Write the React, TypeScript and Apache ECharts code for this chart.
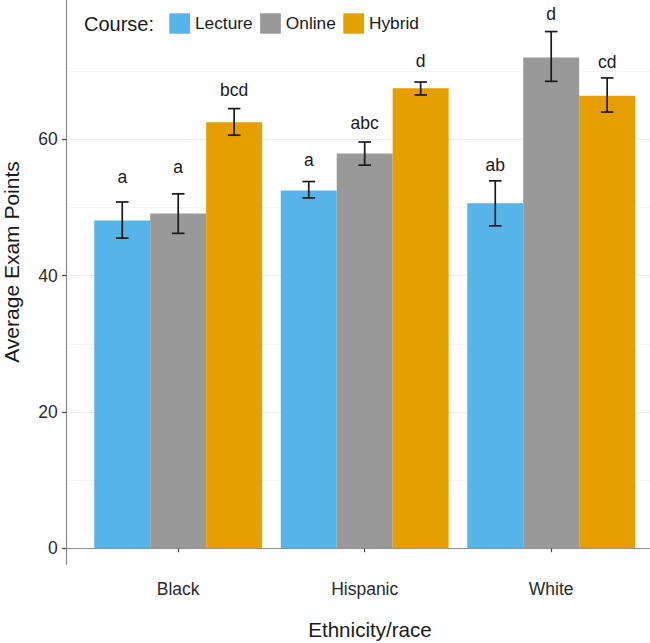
import React, { useEffect, useRef } from "react";
import * as echarts from "echarts";

const ethnicities = ["Black", "Hispanic", "White"];
const courses = ["Lecture", "Online", "Hybrid"];
const courseColors = ["#56B4E9", "#999999", "#E69F00"];

const lectureMean = [48.1, 52.5, 50.6];
const lectureLower = [45.5, 51.4, 47.3];
const lectureUpper = [50.8, 53.8, 53.9];
const lectureLetters = ["a", "a", "ab"];
const lectureLabelY = [53.6, 56.1, 55.4];

const onlineMean = [49.1, 57.9, 72.0];
const onlineLower = [46.2, 56.2, 68.5];
const onlineUpper = [52.0, 59.6, 75.8];
const onlineLetters = ["a", "abc", "d"];
const onlineLabelY = [55.0, 61.5, 77.5];

const hybridMean = [62.5, 67.5, 66.4];
const hybridLower = [60.6, 66.5, 64.0];
const hybridUpper = [64.5, 68.4, 69.0];
const hybridLetters = ["bcd", "d", "cd"];
const hybridLabelY = [66.3, 70.6, 70.5];

const yTickValues = [0, 20, 40, 60];

const FONT = "'Liberation Sans', Arial, Helvetica, sans-serif";

export default function App() {
  const ref = useRef<HTMLDivElement>(null);

  useEffect(() => {
    if (!ref.current) return;
    const chart = echarts.init(ref.current, null, { renderer: "svg" });

    const means = [lectureMean, onlineMean, hybridMean];
    const lowers = [lectureLower, onlineLower, hybridLower];
    const uppers = [lectureUpper, onlineUpper, hybridUpper];
    const letters = [lectureLetters, onlineLetters, hybridLetters];
    const labelYs = [lectureLabelY, onlineLabelY, hybridLabelY];

    const errRows: number[][] = [];
    const errLetters: string[] = [];
    for (let k = 0; k < courses.length; k++) {
      for (let c = 0; c < ethnicities.length; c++) {
        errRows.push([c, k, lowers[k][c], uppers[k][c], labelYs[k][c]]);
        errLetters.push(letters[k][c]);
      }
    }

    const yMin = -2.347;
    const yMax = 80.43;

    const option: any = {
      animation: false,
      backgroundColor: "#ffffff",
      textStyle: { fontFamily: FONT },
      grid: [
        { left: 66.3, top: 71.11, width: 620, height: 477.19 },
        { left: 66.3, top: 0, width: 620, height: 564.3 },
        { left: 84.95, top: 0, width: 559.5, height: 564.3 },
      ],
      xAxis: [
        { gridIndex: 0, type: "value", min: 0, max: 1, show: false },
        {
          gridIndex: 1,
          type: "value",
          min: 0,
          max: 1,
          axisLine: { show: true, lineStyle: { color: "#8c8c8c", width: 1.2 } },
          axisTick: { show: false },
          axisLabel: { show: false },
          splitLine: { show: false },
        },
        {
          gridIndex: 2,
          type: "category",
          data: ethnicities,
          axisLine: { show: false },
          axisTick: {
            show: true,
            alignWithLabel: true,
            length: 4,
            lineStyle: { color: "#444", width: 1.2 },
          },
          axisLabel: {
            margin: 16,
            fontSize: 17.5,
            color: "#2b2b2b",
            fontFamily: FONT,
          },
          splitLine: { show: false },
        },
      ],
      yAxis: [
        {
          gridIndex: 0,
          type: "value",
          min: 0,
          max: 70,
          interval: 10,
          axisLine: { show: false },
          axisTick: { show: false },
          axisLabel: { show: false },
          splitLine: {
            show: true,
            lineStyle: { color: ["#ebebeb", "#f5f5f5"], width: 1 },
          },
        },
        {
          gridIndex: 1,
          type: "value",
          min: yMin,
          max: yMax,
          axisLine: { show: true, lineStyle: { color: "#8c8c8c", width: 1.2 } },
          axisTick: {
            show: true,
            length: 4.3,
            customValues: yTickValues,
            lineStyle: { color: "#444", width: 1.2 },
          },
          axisLabel: {
            customValues: yTickValues,
            margin: 8.6,
            fontSize: 17.5,
            color: "#2b2b2b",
            fontFamily: FONT,
          },
          splitLine: { show: false },
        },
        {
          gridIndex: 2,
          type: "value",
          min: yMin,
          max: yMax,
          show: false,
        },
      ],
      legend: {
        data: courses,
        left: 169.3,
        top: 13.3,
        padding: 0,
        itemWidth: 20.7,
        itemHeight: 20.4,
        itemGap: 7.5,
        icon: "rect",
        textStyle: { fontSize: 17.3, color: "#1a1a1a", fontFamily: FONT },
      },
      graphic: [
        {
          type: "text",
          left: 84,
          top: 14,
          style: {
            text: "Course:",
            fontSize: 20,
            fill: "#1a1a1a",
            fontFamily: FONT,
          },
        },
        {
          type: "text",
          x: 370,
          y: 629.6,
          style: {
            text: "Ethnicity/race",
            fontSize: 20.6,
            fill: "#1a1a1a",
            fontFamily: FONT,
            align: "center",
            verticalAlign: "middle",
          },
        },
        {
          type: "text",
          x: 11.5,
          y: 262,
          rotation: Math.PI / 2,
          style: {
            text: "Average Exam Points",
            fontSize: 21,
            fill: "#1a1a1a",
            fontFamily: FONT,
            align: "center",
            verticalAlign: "middle",
          },
        },
      ],
      series: [
        ...courses.map((name, k) => ({
          name,
          type: "bar",
          xAxisIndex: 2,
          yAxisIndex: 2,
          data: means[k],
          barGap: "0%",
          barCategoryGap: "10%",
          itemStyle: { color: courseColors[k] },
          emphasis: { disabled: true },
        })),
        {
          name: "errorbars",
          type: "custom",
          xAxisIndex: 2,
          yAxisIndex: 2,
          data: errRows,
          encode: { x: 0, y: [2, 3] },
          z: 10,
          silent: true,
          renderItem: (params: any, api: any) => {
            const cat = api.value(0);
            const k = api.value(1);
            const band = api.coord([1, 0])[0] - api.coord([0, 0])[0];
            const barW = band * 0.3;
            const cx = api.coord([cat, 0])[0] + (k - 1) * barW;
            const yLo = api.coord([cat, api.value(2)])[1];
            const yHi = api.coord([cat, api.value(3)])[1];
            const yLab = api.coord([cat, api.value(4)])[1];
            const cap = 6.3;
            const st = { stroke: "#1a1a1a", lineWidth: 1.7 };
            return {
              type: "group",
              children: [
                { type: "line", shape: { x1: cx, y1: yLo, x2: cx, y2: yHi }, style: st },
                { type: "line", shape: { x1: cx - cap, y1: yLo, x2: cx + cap, y2: yLo }, style: st },
                { type: "line", shape: { x1: cx - cap, y1: yHi, x2: cx + cap, y2: yHi }, style: st },
                {
                  type: "text",
                  x: cx,
                  y: yLab - 6.1,
                  style: {
                    text: errLetters[params.dataIndex],
                    fontSize: 17.5,
                    fill: "#1a1a1a",
                    fontFamily: FONT,
                    align: "center",
                    verticalAlign: "middle",
                  },
                },
              ],
            };
          },
        },
      ],
    };

    chart.setOption(option);
    return () => chart.dispose();
  }, []);

  return (
    <div
      ref={ref}
      style={{ position: "absolute", left: 0, top: 0, width: 650, height: 643 }}
    />
  );
}
